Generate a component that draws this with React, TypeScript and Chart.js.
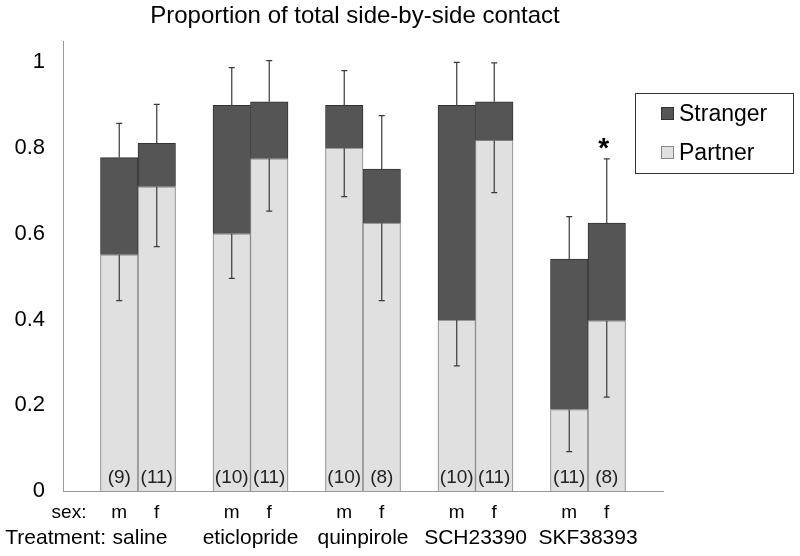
import React, { useEffect, useRef } from "react";
import { Chart, registerables } from "chart.js";

Chart.register(...registerables);

const treatments = ["saline", "eticlopride", "quinpirole", "SCH23390", "SKF38393"];
const sexes = ["m", "f"];
// one value per bar: saline m, saline f, eticlopride m, eticlopride f, ...
const partnerMean = [0.551, 0.710, 0.600, 0.775, 0.800, 0.625, 0.399, 0.818, 0.190, 0.397];
const totalMean = [0.778, 0.811, 0.900, 0.908, 0.900, 0.751, 0.900, 0.908, 0.541, 0.625];
const partnerErr = [0.107, 0.140, 0.104, 0.122, 0.113, 0.181, 0.107, 0.122, 0.098, 0.178];
const totalErr = [0.080, 0.091, 0.088, 0.096, 0.081, 0.125, 0.100, 0.091, 0.099, 0.150];
const nLabels = ["(9)", "(11)", "(10)", "(11)", "(10)", "(8)", "(10)", "(11)", "(11)", "(8)"];
const significant = [false, false, false, false, false, false, false, false, false, true];
const yTicks = [0, 0.2, 0.4, 0.6, 0.8, 1];

const FONT = "'Liberation Sans', Arial, sans-serif";

// slot layout: gap, m, f for each treatment, then a final gap
const slotCount = treatments.length * 3 + 1;
const slotOf = (b: number) => 1 + 3 * Math.floor(b / 2) + (b % 2);
const labels: string[] = Array.from({ length: slotCount }, () => "");
partnerMean.forEach((_, b) => (labels[slotOf(b)] = sexes[b % 2]));

const partnerSlots: (number | null)[] = Array.from({ length: slotCount }, () => null);
const strangerSlots: (number | null)[] = Array.from({ length: slotCount }, () => null);
partnerMean.forEach((p, b) => {
  partnerSlots[slotOf(b)] = p;
  strangerSlots[slotOf(b)] = +(totalMean[b] - p).toFixed(3);
});

const overlay = {
  id: "overlay",
  afterDatasetsDraw(chart: any) {
    const ctx = chart.ctx;
    const xs = chart.scales.x;
    const ys = chart.scales.y;
    ctx.save();
    // error bars
    ctx.strokeStyle = "#3a3a3a";
    ctx.lineWidth = 1.2;
    partnerMean.forEach((p, b) => {
      const x = xs.getPixelForValue(slotOf(b));
      const yp = ys.getPixelForValue(p);
      const ypl = ys.getPixelForValue(p - partnerErr[b]);
      const yt = ys.getPixelForValue(totalMean[b]);
      const ytu = ys.getPixelForValue(totalMean[b] + totalErr[b]);
      ctx.beginPath();
      ctx.moveTo(x, yp);
      ctx.lineTo(x, ypl);
      ctx.moveTo(x - 3, ypl);
      ctx.lineTo(x + 3, ypl);
      ctx.moveTo(x, yt);
      ctx.lineTo(x, ytu);
      ctx.moveTo(x - 3, ytu);
      ctx.lineTo(x + 3, ytu);
      ctx.stroke();
      if (significant[b]) {
        ctx.fillStyle = "#000";
        ctx.font = `bold 28px ${FONT}`;
        ctx.textAlign = "center";
        ctx.textBaseline = "middle";
        ctx.fillText("*", x - 3, ytu - 10);
      }
    });
    // n labels
    ctx.fillStyle = "#222";
    ctx.font = `19px ${FONT}`;
    ctx.textAlign = "center";
    ctx.textBaseline = "middle";
    nLabels.forEach((n, b) => {
      const x = xs.getPixelForValue(slotOf(b));
      ctx.fillText(n, x, ys.getPixelForValue(0) - 13);
    });
    ctx.restore();
  },
  afterDraw(chart: any) {
    const ctx = chart.ctx;
    const xs = chart.scales.x;
    const area = chart.chartArea;
    ctx.save();
    ctx.fillStyle = "#000";
    // title
    ctx.font = `24px ${FONT}`;
    ctx.textAlign = "center";
    ctx.textBaseline = "middle";
    ctx.fillText("Proportion of total side-by-side contact", 355, 16);
    // sex row
    ctx.font = `19px ${FONT}`;
    ctx.fillText("sex:", 69, area.bottom + 22);
    labels.forEach((l, i) => {
      if (l) ctx.fillText(l, xs.getPixelForValue(i), area.bottom + 22);
    });
    // treatment row
    ctx.font = `21px ${FONT}`;
    ctx.textAlign = "right";
    ctx.fillText("Treatment:", 106, area.bottom + 47);
    ctx.textAlign = "center";
    treatments.forEach((t, g) => {
      const x = (xs.getPixelForValue(1 + 3 * g) + xs.getPixelForValue(2 + 3 * g)) / 2;
      ctx.fillText(t, g === 0 ? x + 2 : x, area.bottom + 47);
    });
    // legend
    ctx.strokeStyle = "#333";
    ctx.lineWidth = 1;
    ctx.strokeRect(635.5, 93.5, 158, 80);
    const items = [
      { label: chart.data.datasets[1].label, bg: "#555555", bd: "#333", y: 121 },
      { label: chart.data.datasets[0].label, bg: "#e0e0e0", bd: "#888", y: 160 },
    ];
    ctx.font = `23px ${FONT}`;
    ctx.textAlign = "left";
    ctx.textBaseline = "alphabetic";
    items.forEach((it) => {
      ctx.fillStyle = it.bg;
      ctx.fillRect(661.5, it.y - 13.5, 12, 12);
      ctx.strokeStyle = it.bd;
      ctx.strokeRect(661.5, it.y - 13.5, 12, 12);
      ctx.fillStyle = "#000";
      ctx.fillText(it.label, 679, it.y);
    });
    ctx.restore();
  },
};

export default function App() {
  const ref = useRef<HTMLCanvasElement>(null);
  useEffect(() => {
    document.body.style.margin = "0";
    const chart = new Chart(ref.current!, {
      type: "bar",
      data: {
        labels,
        datasets: [
          {
            label: "Partner",
            data: partnerSlots,
            backgroundColor: "#e0e0e0",
            borderColor: "#808080",
            borderWidth: 1,
            stack: "s",
            barPercentage: 1,
            categoryPercentage: 1,
          },
          {
            label: "Stranger",
            data: strangerSlots,
            backgroundColor: "#555555",
            borderColor: "#333333",
            borderWidth: 1,
            stack: "s",
            barPercentage: 1,
            categoryPercentage: 1,
          },
        ],
      },
      options: {
        responsive: false,
        animation: false,
        devicePixelRatio: 1,
        layout: { padding: { top: 41, right: 137, bottom: 65, left: 0 } },
        plugins: { legend: { display: false }, title: { display: false }, tooltip: { enabled: false } },
        scales: {
          x: {
            stacked: true,
            grid: { display: false, drawTicks: false },
            ticks: { display: false },
            border: { color: "#999", width: 1 },
            afterFit: (s: any) => {
              s.height = 0;
            },
          },
          y: {
            stacked: true,
            min: 0,
            max: 1.05,
            grid: { display: false, drawTicks: false },
            border: { color: "#999", width: 1 },
            ticks: {
              stepSize: 0.2,
              padding: 18,
              color: "#000",
              font: { size: 22, family: FONT },
              callback: (v: any) => String(+(+v).toFixed(1)),
            },
            afterBuildTicks: (s: any) => {
              s.ticks = yTicks.map((v) => ({ value: v }));
            },
            afterFit: (s: any) => {
              s.width = 63;
            },
          },
        },
      },
      plugins: [overlay],
    } as any);
    return () => chart.destroy();
  }, []);
  return <canvas ref={ref} width={800} height={556} style={{ display: "block" }} />;
}
